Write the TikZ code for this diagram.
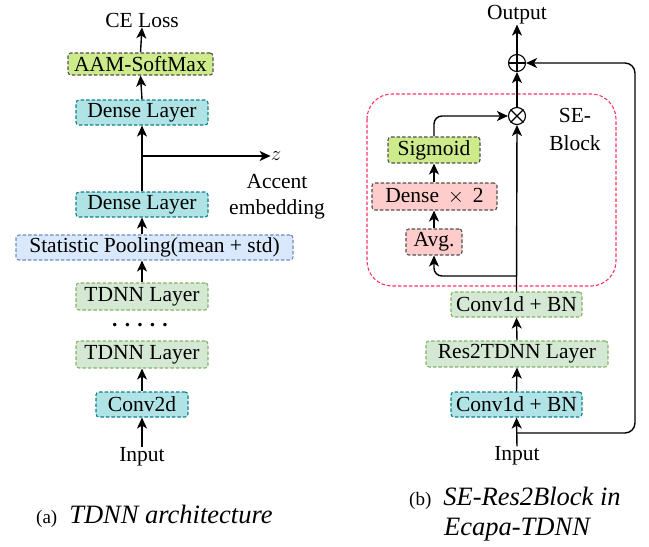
\documentclass[tikz,border=0pt]{standalone}
\usepackage{fontspec}
\setmainfont{Liberation Serif}
\usetikzlibrary{arrows.meta}
\definecolor{limef}{HTML}{CDEB8B}
\definecolor{cyanf}{HTML}{B0E3E6}
\definecolor{cyand}{HTML}{0E8088}
\definecolor{greenf}{HTML}{D5E8D4}
\definecolor{greend}{HTML}{82B366}
\definecolor{bluef}{HTML}{DAE8FC}
\definecolor{blued}{HTML}{6C8EBF}
\definecolor{pinkf}{HTML}{FFCCCC}
\definecolor{grayd}{HTML}{505050}
\definecolor{sered}{HTML}{FF3366}
\begin{document}
\begin{tikzpicture}[x=1pt,y=-1pt,
  font=\fontsize{21.5}{24}\selectfont,
  box/.style={draw, dashed, dash pattern=on 3.5pt off 2pt, line width=1.1pt, rounded corners=3pt, inner sep=0pt, anchor=center},
  limebox/.style={box, fill=limef, draw=grayd},
  pinkbox/.style={box, fill=pinkf, draw=grayd},
  cyanbox/.style={box, fill=cyanf, draw=cyand},
  greenbox/.style={box, fill=greenf, draw=greend},
  bluebox/.style={box, fill=bluef, draw=blued},
  lbl/.style={inner sep=0pt, anchor=center},
  arr/.style={line width=1.4pt, -{Stealth[length=11pt,width=10pt,inset=3pt]}},
  op/.style={circle, draw, line width=1.1pt, minimum size=17pt, inner sep=0pt},
]
\useasboundingbox (0,0) rectangle (649,547);
% ---------- left column ----------
\node[lbl] (ce) at (142,20) {CE Loss};
\node[limebox, minimum width=145pt, minimum height=22pt] (aam) at (140.5,64) {AAM-SoftMax};
\node[cyanbox, minimum width=132pt, minimum height=25pt] (d1) at (142,112.5) {Dense Layer};
\node[cyanbox, minimum width=132pt, minimum height=25pt] (d2) at (142,204.5) {Dense Layer};
\node[bluebox, minimum width=277pt, minimum height=25pt] (sp) at (154.5,247.5) {Statistic Pooling(mean + std)};
\node[greenbox, minimum width=132pt, minimum height=27pt] (t1) at (142,296.5) {TDNN Layer};
\node[lbl] (dots) at (140,325) {\textbf{. . . . .}};
\node[greenbox, minimum width=132pt, minimum height=27pt] (t2) at (142,354.5) {TDNN Layer};
\node[cyanbox, minimum width=92pt, minimum height=25pt] (c2) at (142,404.5) {Conv2d};
\node[lbl] (inA) at (142,457) {Input};
\node[lbl] (z) at (276,156) {$z$};
\node[lbl, align=center, font=\fontsize{21.5}{26}\selectfont] (acc) at (277,197) {Accent\\embedding};
\coordinate (zb) at (142,156);
\draw[arr] (aam.north) -- (ce.south);
\draw[arr] (d1.north) -- (aam.south);
\draw[arr] (d2.north) -- (d1.south);
\draw[arr] (zb) -- (z.west);
\draw[arr] (sp.north -| d2.south) -- (d2.south);
\draw[arr] (t1.north) -- (sp.south -| t1.north);
\draw[arr] (c2.north) -- (t2.south);
\draw[arr] (inA.north) -- (c2.south);
\node[lbl, anchor=west] (capA) at (36,516) {{\fontsize{19}{22}\selectfont (a)}\hspace{12pt}{\fontsize{26.5}{28}\selectfont\itshape TDNN architecture}};
% ---------- right column ----------
\node[lbl] (out) at (517,15) {Output};
\node[op] (plus) at (517,63) {};
\draw[line width=1.1pt] (plus.north) -- (plus.south) (plus.west) -- (plus.east);
\draw[sered, dashed, dash pattern=on 3.5pt off 2pt, line width=1.1pt, rounded corners=25pt] (367,94) rectangle (616,286);
\node[op] (times) at (517,116) {};
\draw[line width=1.1pt] (times.north west) -- (times.south east) (times.north east) -- (times.south west);
\node[lbl, align=center, font=\fontsize{21.5}{28}\selectfont] (se) at (575,129) {SE-\\Block};
\node[limebox, minimum width=92pt, minimum height=26pt] (sig) at (434,150) {Sigmoid};
\node[pinkbox, minimum width=125pt, minimum height=27pt] (dense) at (434.5,196.5) {Dense $\,\times\,$ 2};
\node[pinkbox, minimum width=56pt, minimum height=26pt] (avg) at (434,242) {Avg.};
\node[greenbox, minimum width=131pt, minimum height=25pt] (cb2) at (516.5,304.5) {Conv1d + BN};
\node[greenbox, minimum width=182pt, minimum height=26pt] (res) at (517,354) {Res2TDNN Layer};
\node[cyanbox, minimum width=131pt, minimum height=25pt] (cb1) at (516.5,404.5) {Conv1d + BN};
\node[lbl] (inB) at (517,456) {Input};
\coordinate (b1) at (517,433);
\coordinate (rx) at (635,0);
\coordinate (b2) at (517,276);
\draw[arr] (plus.north) -- (out.south);
\draw[arr] (times.north) -- (plus.south);
\draw[arr] (cb2.north) -- (times.south);
\draw[arr] (res.north) -- (cb2.south);
\draw[arr] (cb1.north) -- (res.south);
\draw[arr] (inB.north) -- (cb1.south);
\draw[arr, rounded corners=10pt] (b1) -- (b1 -| rx) -- (plus -| rx) -- (plus.east);
\draw[arr, rounded corners=8pt] (b2) -| (avg.south);
\draw[arr] (avg.north) -- (dense.south -| avg.north);
\draw[arr] (dense.north -| sig.south) -- (sig.south);
\draw[arr, rounded corners=8pt] (sig.north) |- (times.west);
\node[lbl, anchor=west] (capB) at (409,498) {{\fontsize{19}{22}\selectfont (b)}\hspace{12pt}{\fontsize{26.5}{28}\selectfont\itshape SE-Res2Block in}};
\node[lbl, anchor=west, font=\fontsize{26.5}{28}\selectfont\itshape] (capB2) at (444,530) {Ecapa-TDNN};
\end{tikzpicture}
\end{document}
